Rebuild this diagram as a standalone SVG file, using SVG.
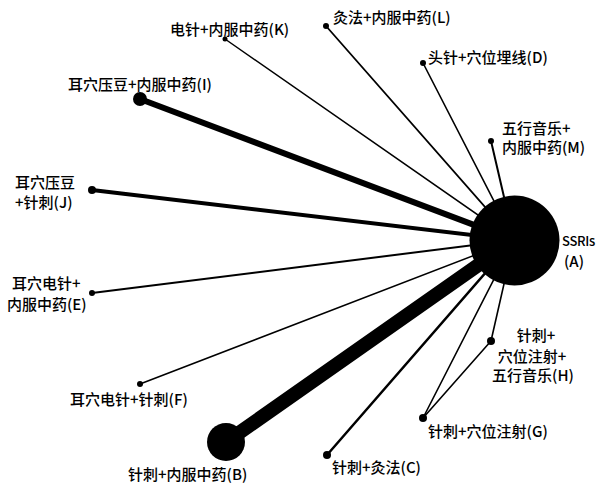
<svg xmlns="http://www.w3.org/2000/svg" width="598" height="485" viewBox="0 0 598 485">
<style>
text{font-family:"Noto Sans CJK SC","Noto Sans",sans-serif;font-size:15px;font-weight:500;fill:#000}
.e{stroke:#000;stroke-linecap:round;fill:none}
.n{fill:#000}
</style>
<rect width="598" height="485" fill="#fff"/>
<g id="connectors">
<line class="e" x1="225" y1="39" x2="514" y2="240" stroke-width="1.5"/>
<line class="e" x1="326" y1="26" x2="514" y2="240" stroke-width="1.8"/>
<line class="e" x1="423" y1="63" x2="514" y2="240" stroke-width="1.6"/>
<line class="e" x1="491" y1="141" x2="514" y2="240" stroke-width="2"/>
<line class="e" x1="140" y1="99" x2="514" y2="240" stroke-width="6"/>
<line class="e" x1="92" y1="190" x2="514" y2="240" stroke-width="4"/>
<line class="e" x1="92" y1="293" x2="514" y2="240" stroke-width="2"/>
<line class="e" x1="140" y1="384" x2="514" y2="240" stroke-width="1.5"/>
<line class="e" x1="226" y1="442" x2="514" y2="240" stroke-width="14"/>
<line class="e" x1="327" y1="455" x2="514" y2="240" stroke-width="2.5"/>
<line class="e" x1="423" y1="418" x2="514" y2="240" stroke-width="1.6"/>
<line class="e" x1="491" y1="341" x2="514" y2="240" stroke-width="1.6"/>
<line class="e" x1="423" y1="418" x2="491" y2="341" stroke-width="1.6"/>
</g>
<g id="A"><circle class="n" cx="514.5" cy="240.5" r="45"/><text x="562" y="246" style="font-size:13px;letter-spacing:-0.3px">SSRIs</text><text x="564" y="267">(A)</text></g>
<g id="K"><circle class="n" cx="225" cy="39" r="2.5"/><text x="170" y="35">电针+内服中药(K)</text></g>
<g id="L"><circle class="n" cx="326" cy="26" r="3"/><text x="333" y="23">灸法+内服中药(L)</text></g>
<g id="D"><circle class="n" cx="423" cy="63" r="3"/><text x="428" y="63">头针+穴位埋线(D)</text></g>
<g id="M"><circle class="n" cx="491" cy="141" r="3"/><text x="502" y="134">五行音乐+</text><text x="502" y="153">内服中药(M)</text></g>
<g id="I"><circle class="n" cx="140" cy="99" r="7"/><text x="68" y="90">耳穴压豆+内服中药(I)</text></g>
<g id="J"><circle class="n" cx="92" cy="190" r="4"/><text x="15" y="188">耳穴压豆</text><text x="15" y="208">+针刺(J)</text></g>
<g id="E"><circle class="n" cx="92" cy="293" r="3"/><text x="12" y="289">耳穴电针+</text><text x="7" y="310">内服中药(E)</text></g>
<g id="F"><circle class="n" cx="140" cy="384" r="3"/><text x="70" y="405">耳穴电针+针刺(F)</text></g>
<g id="B"><circle class="n" cx="226" cy="442" r="19"/><text x="128" y="480">针刺+内服中药(B)</text></g>
<g id="C"><circle class="n" cx="327" cy="455" r="4"/><text x="332" y="473">针刺+灸法(C)</text></g>
<g id="G"><circle class="n" cx="423" cy="418" r="4"/><text x="428" y="437">针刺+穴位注射(G)</text></g>
<g id="H"><circle class="n" cx="491" cy="341" r="4"/><text x="536" y="341" text-anchor="middle">针刺+</text><text x="532" y="362" text-anchor="middle">穴位注射+</text><text x="533" y="381" text-anchor="middle">五行音乐(H)</text></g>
</svg>
